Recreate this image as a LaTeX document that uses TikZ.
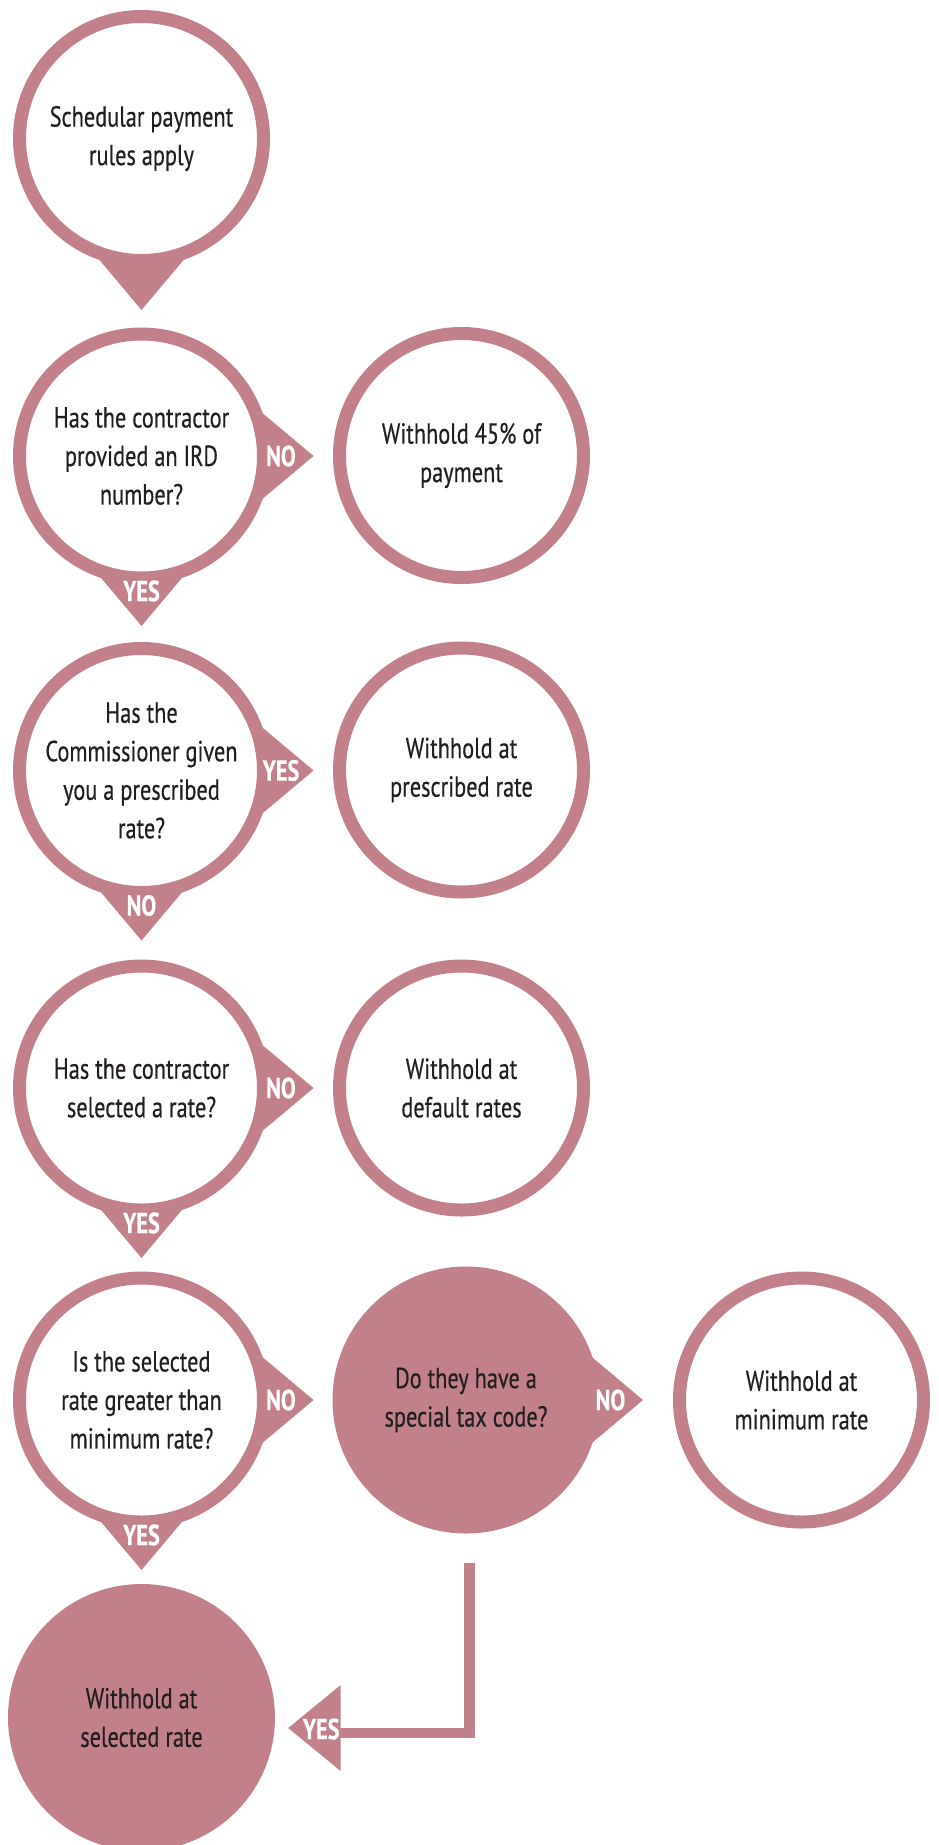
\documentclass[tikz,border=0pt]{standalone}
\usepackage{fontspec}
\setmainfont{PT Sans}[FakeStretch=0.77,FakeBold=0.4]
\usetikzlibrary{calc,backgrounds}
\definecolor{rosec}{RGB}{194,128,138}
\definecolor{inkc}{RGB}{35,31,32}
\tikzset{
	ring/.style={circle, draw=rosec, line width=13pt, fill=white, minimum size=244pt, inner sep=0pt, align=center, text=inkc, font=\fontsize{29}{38.5}\selectfont},
	blob/.style={circle, fill=rosec, minimum size=267pt, inner sep=0pt, align=center, text=inkc, font=\fontsize{29}{38.5}\selectfont},
	tag/.style={inner sep=0pt, text=white, font=\bfseries\fontsize{29}{30}\selectfont},
	bar/.style={draw=rosec, line width=10.5pt, miter limit=4},
}
% pointer to the right / downwards: [tip distance]{node}{label}
\newcommand{\tipright}[3][172]{%
	\begin{scope}[on background layer]
		\fill[rosec] ($(#2)+(95,{-0.84*(#1-95)})$) -- ($(#2)+(#1,0)$) -- ($(#2)+(95,{0.84*(#1-95)})$) -- cycle;
	\end{scope}
	\node[tag] (#2-r) at ($(#2)+(#1-32.5,0)$) {#3};}
\newcommand{\tipdown}[3][170]{%
	\begin{scope}[on background layer]
		\fill[rosec] ($(#2)+({-0.84*(#1-95)},95)$) -- ($(#2)+(0,#1)$) -- ($(#2)+({0.84*(#1-95)},95)$) -- cycle;
	\end{scope}
	\node[tag] (#2-d) at ($(#2)+(0,#1-35)$) {#3};}

\begin{document}
\begin{tikzpicture}[x=1pt, y=-1pt]
			%%%%% START %%%%%
			\useasboundingbox (0,0) rectangle (938,1845);
			
			\node[ring] (start) at (141.5,138.5) {Schedular payment\\rules apply};
			\tipdown[171.5]{start}{};
			
			\node[ring] (ird) at (141.5,456) {Has the contractor\\provided an IRD\\number?};
			\node[ring] (pay45) at (461.5,455.5) {Withhold 45\% of\\payment};
			\tipright{ird}{NO};
			\tipdown{ird}{YES};
			
			\node[ring] (presc) at (141.5,770.5) {Has the\\Commissioner given\\you a prescribed\\rate?};
			\node[ring] (prescrate) at (461.5,770) {Withhold at\\prescribed rate};
			\tipright{presc}{YES};
			\tipdown{presc}{NO};
			
			\node[ring] (chosen) at (141.5,1088) {Has the contractor\\selected a rate?};
			\node[ring] (default) at (461.5,1088) {Withhold at\\default rates};
			\tipright{chosen}{NO};
			\tipdown{chosen}{YES};
			
			\node[ring] (greater) at (141.5,1400) {Is the selected\\rate greater than\\minimum rate?};
			\node[blob] (tax) at (466,1400) {Do they have a\\special tax code?};
			\node[ring] (minrate) at (801.5,1400) {Withhold at\\minimum rate};
			\tipright{greater}{NO};
			\tipright[177]{tax}{NO};
			\tipdown{greater}{YES};
			
			\node[blob] (selrate) at (141.5,1717.5) {Withhold at\\selected rate};
			
			% special tax code -> selected rate
			\coordinate (yestip) at ($(selrate.east)+(13,10.5)$);
			\draw[bar] ($(tax.south)+(3.5,29.5)$) |- ($(yestip)+(52,5)$);
			\fill[rosec] ($(yestip)+(52.5,-43)$) -- (yestip) -- ($(yestip)+(52.5,43)$) -- cycle;
			\node[tag] (taxyes) at ($(yestip)+(33,1)$) {YES};
			
			%%%%% END %%%%%
\end{tikzpicture}
\end{document}
